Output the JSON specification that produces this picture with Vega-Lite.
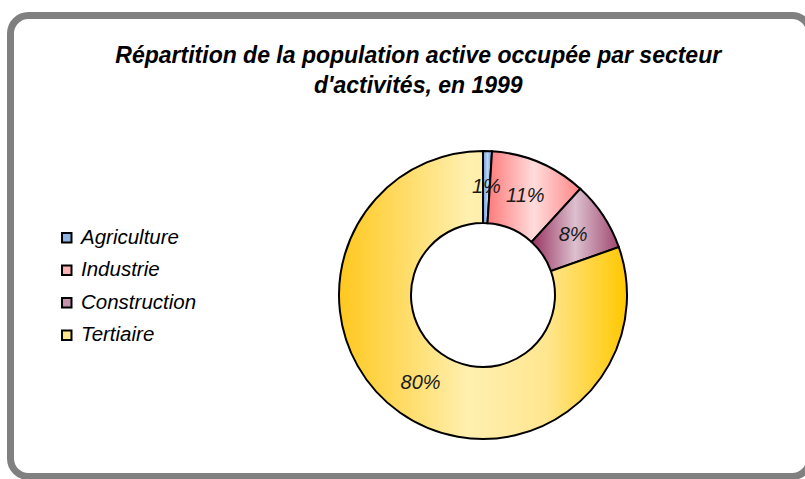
{
  "$schema": "https://vega.github.io/schema/vega-lite/v6.json",
  "width": 799.5,
  "height": 461,
  "autosize": {"type": "none"},
  "padding": {"left": 10.5, "top": 15.5, "right": -5, "bottom": 2.5},
  "background": "white",
  "view": {"stroke": "#808080", "strokeWidth": 7, "cornerRadius": 18, "fill": "white"},
  "config": {
    "view": {"stroke": "#808080", "strokeWidth": 7, "cornerRadius": 18},
    "font": "Liberation Sans"
  },
  "title": {
    "text": ["Répartition de la population active occupée par secteur", "d'activités, en 1999"],
    "fontSize": 23,
    "fontStyle": "italic",
    "fontWeight": "bold",
    "font": "Liberation Sans",
    "color": "black",
    "anchor": "middle",
    "offset": -82,
    "dx": 8,
    "lineHeight": 30
  },
  "data": {
    "values": [
      {"secteur": "Agriculture", "part": 1.0, "ordre": 1, "etiquette": "1%"},
      {"secteur": "Industrie", "part": 10.8, "ordre": 2, "etiquette": "11%"},
      {"secteur": "Construction", "part": 7.8, "ordre": 3, "etiquette": "8%"},
      {"secteur": "Tertiaire", "part": 80.4, "ordre": 4, "etiquette": "80%"}
    ]
  },
  "encoding": {
    "theta": {"field": "part", "type": "quantitative", "stack": true},
    "order": {"field": "ordre", "type": "quantitative"}
  },
  "layer": [
    {
      "mark": {"type": "arc", "outerRadius": 144, "innerRadius": 72, "x": 472.5, "y": 279.5},
      "encoding": {
        "color": {
          "field": "secteur",
          "type": "nominal",
          "sort": ["Agriculture", "Industrie", "Construction", "Tertiaire"],
          "scale": {
            "domain": ["Agriculture", "Industrie", "Construction", "Tertiaire"],
            "range": ["#8EB4E3", "#FFB3B3", "#C593AD", "#FFE48A"]
          },
          "legend": {
            "orient": "none",
            "legendX": 46,
            "legendY": 212,
            "title": null,
            "labelFontSize": 20.5,
            "labelFontStyle": "italic",
            "labelFont": "Liberation Sans",
            "labelColor": "black",
            "symbolType": "square",
            "symbolSize": 90,
            "symbolStrokeColor": "black",
            "symbolStrokeWidth": 2,
            "symbolOpacity": 1,
            "rowPadding": 11.5,
            "labelOffset": 4
          }
        }
      }
    },
    {
      "mark": {"type": "arc", "outerRadius": 144, "innerRadius": 72, "x": 472.5, "y": 279.5, "stroke": "black", "strokeWidth": 2},
      "encoding": {
        "fill": {
          "condition": [
            {"test": "datum.secteur === 'Tertiaire'", "value": {"gradient": "linear", "x1": 0, "y1": 0, "x2": 1, "y2": 0, "stops": [
              {"offset": 0, "color": "#FFC81E"},
              {"offset": 0.45, "color": "#FFF0B0"},
              {"offset": 0.72, "color": "#FFE690"},
              {"offset": 1, "color": "#FFC800"}
            ]}},
            {"test": "datum.secteur === 'Industrie'", "value": {"gradient": "linear", "x1": 0, "y1": 0, "x2": 1, "y2": 0, "stops": [
              {"offset": 0, "color": "#FF7A7A"},
              {"offset": 0.5, "color": "#FFDCDC"},
              {"offset": 1, "color": "#FF8585"}
            ]}},
            {"test": "datum.secteur === 'Construction'", "value": {"gradient": "linear", "x1": 0, "y1": 0, "x2": 1, "y2": 0, "stops": [
              {"offset": 0, "color": "#993360"},
              {"offset": 0.5, "color": "#DCC0CF"},
              {"offset": 1, "color": "#A04870"}
            ]}}
          ],
          "value": {"gradient": "linear", "x1": 0, "y1": 0, "x2": 1, "y2": 0, "stops": [
            {"offset": 0, "color": "#6C98D8"},
            {"offset": 0.5, "color": "#B8D4F4"},
            {"offset": 1, "color": "#6C98D8"}
          ]}
        }
      }
    },
    {
      "mark": {"type": "text", "radius": 108, "x": 472.5, "y": 279.5, "fontSize": 20, "fontStyle": "italic", "font": "Liberation Sans", "color": "#1a1a1a"},
      "encoding": {"text": {"field": "etiquette", "type": "nominal"}}
    }
  ]
}
